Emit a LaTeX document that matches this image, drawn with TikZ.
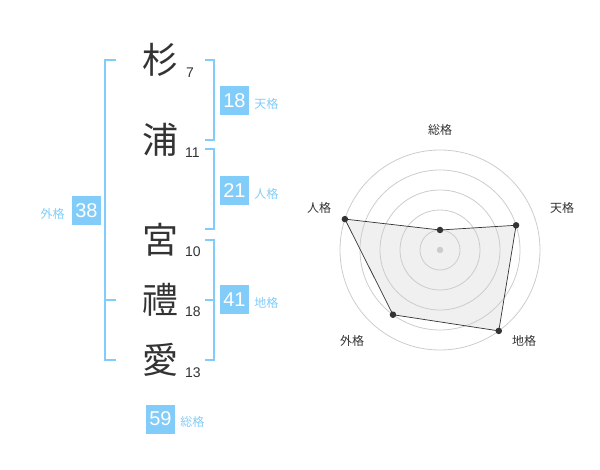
\documentclass[tikz,border=0pt]{standalone}
\usepackage{fontspec}
\setmainfont{Liberation Sans}
\newfontfamily\jp{Noto Sans CJK JP}
\usetikzlibrary{positioning}
\definecolor{sky}{RGB}{130,204,250}
\definecolor{ink}{RGB}{51,51,51}

\begin{document}
\begin{tikzpicture}[x=1pt, y=-1pt,
				declare function = {
						R = 20;
					},
				kanji/.style = {font=\jp\fontsize{36}{36}\selectfont, text=ink, inner sep=0pt},
				strokes/.style = {font=\fontsize{14}{14}\selectfont, text=ink, inner sep=0pt, anchor=west},
				kaku/.style = {fill=sky, text=white, font=\fontsize{20}{20}\selectfont, minimum size=29pt, inner sep=0pt},
				kakuname/.style = {font=\jp\fontsize{12}{12}\selectfont, text=sky, inner sep=0pt},
				brace/.style = {sky, line width=2pt},
				ring/.style = {gray!40, line width=0.8pt},
				dot/.style = {circle, fill=ink, inner sep=0pt, minimum size=6.5pt},
				axis/.style = {font=\jp\fontsize{12}{12}\selectfont, text=ink, inner sep=0pt},
			]
			\path[use as bounding box] (0,0) rectangle (600,470);
			\node[kanji] (sugi) at (160,60) {杉};
			\node[kanji] (ura) at (160,140) {浦};
			\node[kanji] (miya) at (160,240) {宮};
			\node[kanji] (rei) at (160,300) {禮};
			\node[kanji] (ai) at (160,360) {愛};
			\node[strokes] (k1) at (186,73) {7};
			\node[strokes] (k2) at (185,153) {11};
			\node[strokes] (k3) at (185,252) {10};
			\node[strokes] (k4) at (185,312) {18};
			\node[strokes] (k5) at (185,373) {13};
			\draw[brace] (116,60) -- (105,60) -- (105,360) -- (116,360) (105,300) -- (116,300);
			\draw[brace] (205,60) -- (214,60) -- (214,140) -- (205,140);
			\draw[brace] (205,149) -- (214,149) -- (214,229) -- (205,229);
			\draw[brace] (205,240) -- (214,240) -- (214,360) -- (205,360) (214,300) -- (205,300);
			\node[kaku] (ten) at (234.5,100.5) {18};
			\node[kakuname, right=5pt of ten, yshift=-3pt] (tenL) {天格};
			\node[kaku] (jin) at (234.5,190.5) {21};
			\node[kakuname, right=5pt of jin, yshift=-3pt] (jinL) {人格};
			\node[kaku] (chi) at (234.5,299.5) {41};
			\node[kakuname, right=5pt of chi, yshift=-3pt] (chiL) {地格};
			\node[kaku] (gai) at (86.5,210.5) {38};
			\node[kakuname, left=7pt of gai, yshift=-3pt] (gaiL) {外格};
			\node[kaku] (sou) at (160.5,419) {59};
			\node[kakuname, right=5pt of sou, yshift=-3pt] (souL) {総格};
			\coordinate (O) at (440,250);
			\path (O) ++(-90:R) coordinate (P1) (O) ++(-18:4*R) coordinate (P2) (O) ++(54:5*R) coordinate (P3)
				(O) ++(126:4*R) coordinate (P4) (O) ++(198:5*R) coordinate (P5);
			\fill[gray!12] (P1) -- (P2) -- (P3) -- (P4) -- (P5) -- cycle;
			\foreach \r in {1,...,5}
				\draw[ring] (O) circle[radius=\r*R];
			\draw[ink, line width=0.7pt] (P1) -- (P2) -- (P3) -- (P4) -- (P5) -- cycle;
			\foreach \i in {1,...,5}
				\node[dot] (d\i) at (P\i) {};
			\node[dot, fill=gray!40] (mid) at (O) {};
			\node[axis] (aSou) at (440,130) {総格};
			\node[axis] (aTen) at (562,208) {天格};
			\node[axis] (aJin) at (319,208) {人格};
			\node[axis] (aChi) at (524,341) {地格};
			\node[axis] (aGai) at (352,341) {外格};
		\end{tikzpicture}
\end{document}
